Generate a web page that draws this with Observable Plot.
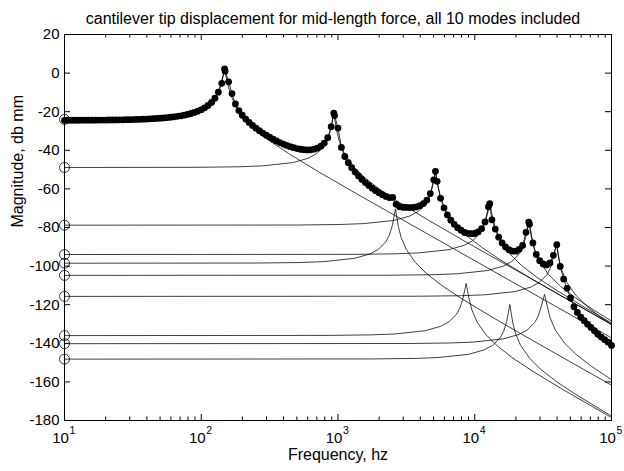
<!DOCTYPE html>
<html><head><meta charset="utf-8">
<script src="https://cdn.jsdelivr.net/npm/d3@7"></script>
<script src="https://cdn.jsdelivr.net/npm/@observablehq/plot@0.6"></script>
<style>
html,body{margin:0;padding:0;background:#fff;}
#chart svg{display:block;}
</style></head><body><div id="chart"></div>
<script>
const chartTitle = "cantilever tip displacement for mid-length force, all 10 modes included";
const xLabel = "Frequency, hz";
const yLabel = "Magnitude, db mm";
const xTickHz = [10, 100, 1000, 10000, 100000];
const xTickExp = ["1", "2", "3", "4", "5"];
const xMinorHz = [20,30,40,50,60,70,80,90,200,300,400,500,600,700,800,900,2000,3000,4000,5000,6000,7000,8000,9000,20000,30000,40000,50000,60000,70000,80000,90000];
const yTicks = [-180,-160,-140,-120,-100,-80,-60,-40,-20,0,20];

// total response (dots), frequency in Hz and magnitude in dB
const totalHz = [10,10.59,11.22,11.89,12.59,13.34,14.13,14.96,15.85,16.79,17.78,18.84,19.95,21.13,22.39,23.71,25.12,26.61,28.18,29.85,31.62,33.5,35.48,37.58,39.81,42.17,44.67,47.32,50.12,53.09,56.23,59.57,63.1,66.83,70.79,74.99,79.43,84.14,89.13,94.41,
100,105.9,112.2,118.9,125.9,133.4,141.3,149.6,158.5,167.9,177.8,188.4,199.5,211.3,223.9,237.1,251.2,266.1,281.8,298.5,316.2,335,354.8,375.8,398.1,421.7,446.7,473.2,501.2,530.9,562.3,595.7,631,668.3,707.9,749.9,794.3,841.4,891.3,944.1,
1000,1059,1122,1189,1259,1334,1413,1496,1585,1679,1778,1884,1995,2113,2239,2371,2512,2661,2818,2985,3162,3350,3548,3758,3981,4217,4467,4732,5012,5309,5623,5957,6310,6683,7079,7499,7943,8414,8913,9441,
10000,10590,11220,11890,12590,13340,14130,14960,15850,16790,17780,18840,19950,21130,22390,23710,25120,26610,28180,29850,31620,33500,35480,37580,39810,42170,44670,47320,50120,53090,56230,59570,63100,66830,70790,74990,79430,84140,89130,94410,100000];
const totalDb = [-24.45,-24.44,-24.44,-24.43,-24.42,-24.41,-24.41,-24.4,-24.38,-24.37,-24.36,-24.34,-24.32,-24.3,-24.28,-24.25,-24.22,-24.19,-24.15,-24.11,-24.06,-24.01,-23.95,-23.88,-23.8,-23.71,-23.61,-23.5,-23.37,-23.23,-23.06,-22.87,-22.65,-22.41,-22.12,-21.78,-21.4,-20.94,-20.4,-19.75,
-18.97,-18,-16.78,-15.21,-13.03,-9.9,-5.3,1.0,-4.5,-10.6,-16.0,-19.4,-21.83,-23.81,-25.55,-27.11,-28.54,-29.85,-31.06,-32.19,-33.25,-34.24,-35.14,-35.99,-36.77,-37.47,-38.1,-38.65,-39.1,-39.46,-39.7,-39.8,-39.73,-39.44,-38.88,-37.9,-36.27,-33.46,-27.77,-22.0,
-28.5,-38.5,-43.2,-46.4,-49,-51.3,-53.3,-55.1,-56.7,-58.2,-59.6,-60.9,-62,-63,-63.9,-64.5,-64.4,-68,-69.2,-69.5,-69.6,-69.7,-69.6,-69.3,-68.7,-67.6,-65.8,-62.4,-55.3,-56.1,-64.9,-69.8,-73.5,-76.2,-78.35,-80.1,-81.4,-82.6,-83,-83.2,
-83.1,-82.3,-80.6,-77.1,-69.3,-76,-80.8,-85,-88,-90.1,-91.5,-92.2,-92.25,-91.3,-89.3,-82.5,-78.3,-88,-94,-97.2,-98.9,-99.4,-98.4,-94.4,-88.9,-100.2,-106.7,-111.5,-116.5,-121.1,-124,-126.5,-128.3,-130.1,-131.8,-133.5,-135.3,-136.8,-138.1,-139.4,-141.1];
const totalPeakHz = [148, 931, 5160, 12880, 24830];
const totalPeakDb = [2.2, -20.7, -50.9, -67.7, -77.2];

// individual modal contributions
const mode1Hz = [10,14.8,29.6,44.4,74,96.2,111,125.8,133.2,140.6,148,155.4,162.8,177.6,207.2,251.6,325.6,444,740,1480,14800,100000];
const mode1Db = [-24,-23.91,-23.65,-23.18,-21.5,-19.23,-16.82,-12.93,-9.73,-4.39,2,-4.89,-10.63,-16.92,-23.65,-29.53,-35.69,-42.06,-51.6,-63.91,-104,-137.2];
const mode2Hz = [10,93.1,186.2,279.3,465.5,605.2,698.3,791.4,837.9,884.5,931,977.6,1024,1117,1303,1583,2048,2793,4655,9310,100000];
const mode2Db = [-48.9,-48.81,-48.55,-48.08,-46.4,-44.13,-41.72,-37.83,-34.63,-29.29,-20.9,-29.79,-35.53,-41.82,-48.55,-54.43,-60.59,-66.96,-76.5,-88.81,-130.1];
const mode3Hz = [10,263,526,789,1315,1710,1973,2236,2367,2499,2630,2762,2893,3156,3682,4471,5786,7890,13150,26300,100000];
const mode3Db = [-98.5,-98.41,-98.15,-97.68,-96,-93.73,-91.32,-87.43,-84.23,-78.89,-70.4,-79.39,-85.13,-91.42,-98.15,-104.03,-110.19,-116.56,-126.1,-138.41,-161.7];
const mode4Hz = [10,516,1032,1548,2580,3354,3870,4386,4644,4902,5160,5418,5676,6192,7224,8772,11350,15480,25800,51600,100000];
const mode4Db = [-78.8,-78.71,-78.45,-77.98,-76.3,-74.03,-71.62,-67.73,-64.53,-59.19,-50.9,-59.69,-65.43,-71.72,-78.45,-84.33,-90.49,-96.86,-106.4,-118.71,-130.3];
const mode5Hz = [10,865,1730,2595,4325,5623,6488,7353,7785,8218,8650,9083,9515,10380,12110,14710,19030,25950,43250,86500,100000];
const mode5Db = [-136,-135.91,-135.65,-135.18,-133.5,-131.23,-128.82,-124.93,-121.73,-116.39,-109,-116.89,-122.63,-128.92,-135.65,-141.53,-147.69,-154.06,-163.6,-175.91,-178.45];
const mode6Hz = [10,1288,2576,3864,6440,8372,9660,10950,11590,12240,12880,13520,14170,15460,18030,21900,28340,38640,64400,100000];
const mode6Db = [-94,-93.91,-93.65,-93.18,-91.5,-89.23,-86.82,-82.93,-79.73,-74.39,-67.7,-74.89,-80.63,-86.92,-93.65,-99.53,-105.69,-112.06,-121.6,-129.46];
const mode7Hz = [10,1804,3608,5412,9020,11730,13530,15330,16240,17140,18040,18940,19840,21650,25260,30670,39690,54120,90200,100000];
const mode7Db = [-148.2,-148.11,-147.85,-147.38,-145.7,-143.43,-141.02,-137.13,-133.93,-128.59,-119.9,-129.09,-134.83,-141.12,-147.85,-153.73,-159.89,-166.26,-175.8,-177.66];
const mode8Hz = [10,2483,4966,7449,12420,16140,18620,21110,22350,23590,24830,26070,27310,29800,34760,42210,54630,74490,100000];
const mode8Db = [-104.8,-104.71,-104.45,-103.98,-102.3,-100.03,-97.62,-93.73,-90.53,-85.19,-77.3,-85.69,-91.43,-97.72,-104.45,-110.33,-116.49,-122.86,-128.45];
const mode9Hz = [10,3236,6472,9708,16180,21030,24270,27510,29120,30740,32360,33980,35600,38830,45300,55010,71190,100000];
const mode9Db = [-140.2,-140.11,-139.85,-139.38,-137.7,-135.43,-133.02,-129.13,-125.93,-120.59,-114.7,-121.09,-126.83,-133.12,-139.85,-145.73,-151.89,-158.84];
const mode10Hz = [10,3944,7888,11830,19720,25640,29580,33520,35500,37470,39440,41410,43380,47330,55220,67050,86770,100000];
const mode10Db = [-115.7,-115.61,-115.35,-114.88,-113.2,-110.93,-108.52,-104.63,-101.43,-96.09,-88.7,-96.59,-102.33,-108.62,-115.35,-121.23,-127.39,-130.39];

const modeSeries = [[mode1Hz,mode1Db],[mode2Hz,mode2Db],[mode3Hz,mode3Db],[mode4Hz,mode4Db],[mode5Hz,mode5Db],[mode6Hz,mode6Db],[mode7Hz,mode7Db],[mode8Hz,mode8Db],[mode9Hz,mode9Db],[mode10Hz,mode10Db]];
const modeRows = modeSeries.flatMap(([hz, db], i) => hz.map((f, j) => ({mode: i + 1, f, db: db[j]})));
const modeStarts = modeSeries.map(([hz, db], i) => ({mode: i + 1, f: hz[0], db: db[0]}));
const totalRows = totalHz.map((f, i) => ({f, db: totalDb[i]}))
  .concat(totalPeakHz.map((f, i) => ({f, db: totalPeakDb[i]})))
  .sort((a, b) => a.f - b.f);

const W = 624, H = 471, mT = 34, mB = 51, mL = 64, mR = 13;
const frameH = H - mT - mB, frameW = W - mL - mR;
const font = "Liberation Sans, Arial, Helvetica, sans-serif";

const chart = Plot.plot({
  width: W, height: H,
  marginTop: mT, marginBottom: mB, marginLeft: mL, marginRight: mR,
  style: {fontFamily: font, background: "#fff", color: "#000"},
  x: {type: "log", domain: [10, 100000], axis: null},
  y: {domain: [-180, 20], axis: null},
  marks: [
    Plot.line(modeRows, {x: "f", y: "db", z: "mode", stroke: "#000", strokeWidth: 0.75}),
    Plot.dot(modeStarts, {x: "f", y: "db", r: 5, stroke: "#000", fill: "none", strokeWidth: 0.8}),
    Plot.line(totalRows, {x: "f", y: "db", stroke: "#000", strokeWidth: 0.8}),
    Plot.dot(totalRows, {x: "f", y: "db", r: 3.4, fill: "#000", stroke: "none"}),
    Plot.frame({stroke: "#000", strokeWidth: 1}),
    // inward ticks (bottom / top)
    Plot.tickX(xTickHz, {x: d => d, insetTop: frameH - 6, stroke: "#000"}),
    Plot.tickX(xTickHz, {x: d => d, insetBottom: frameH - 6, stroke: "#000"}),
    Plot.tickX(xMinorHz, {x: d => d, insetTop: frameH - 3.5, stroke: "#000"}),
    Plot.tickX(xMinorHz, {x: d => d, insetBottom: frameH - 3.5, stroke: "#000"}),
    // inward ticks (left / right)
    Plot.tickY(yTicks, {y: d => d, insetRight: frameW - 6, stroke: "#000"}),
    Plot.tickY(yTicks, {y: d => d, insetLeft: frameW - 6, stroke: "#000"}),
    // tick labels
    Plot.text(yTicks, {x: 10, y: d => d, text: d => String(d), textAnchor: "end", dx: -5, fontSize: 15, fontFamily: font, fill: "#000"}),
    Plot.text(xTickHz, {x: d => d, y: -180, text: () => "10", dy: 18, dx: -4, fontSize: 15, fontFamily: font, fill: "#000"}),
    Plot.text(xTickHz, {x: d => d, y: -180, text: (d, i) => xTickExp[i], dy: 10, dx: 8, fontSize: 10.5, fontFamily: font, fill: "#000"}),
    // axis titles and chart title
    Plot.text([xLabel], {frameAnchor: "bottom", text: d => d, dy: 39, fontSize: 16, fontFamily: font, fill: "#000"}),
    Plot.text([yLabel], {frameAnchor: "left", text: d => d, rotate: -90, dx: -47, fontSize: 16, fontFamily: font, fill: "#000"}),
    Plot.text([chartTitle], {frameAnchor: "top", text: d => d, dy: -22, dx: -5, fontSize: 16, fontFamily: font, fill: "#000"})
  ]
});
document.getElementById("chart").appendChild(chart);
</script>
</body></html>
